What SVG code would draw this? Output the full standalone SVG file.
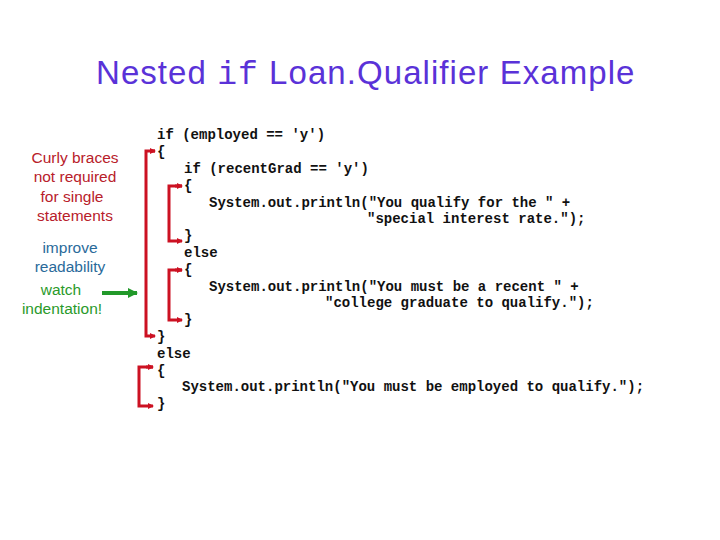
<svg xmlns="http://www.w3.org/2000/svg" width="720" height="540" viewBox="0 0 720 540">
<defs>
<marker id="ah" markerWidth="6" markerHeight="6" refX="5" refY="3" orient="auto" markerUnits="userSpaceOnUse"><path d="M0,0 L6,3 L0,6 z" fill="#cc1122"/></marker>
<marker id="ag" markerWidth="10" markerHeight="10" refX="9" refY="5" orient="auto" markerUnits="userSpaceOnUse"><path d="M0,0 L10,5 L0,10 z" fill="#22992a"/></marker>
</defs>
<style>
.code{font-family:"Liberation Mono",monospace;font-weight:bold;font-size:14px;fill:#111;white-space:pre}
.note{font-family:"Liberation Sans",Arial,sans-serif;font-size:15.5px;text-anchor:middle}
.br{fill:none;stroke:#cc1122;stroke-width:3}
</style>
<rect width="720" height="540" fill="#fff"/>
<g id="title"><text x="96" y="84" font-family="Liberation Sans,Arial,sans-serif" font-size="33" letter-spacing="0.6" fill="#5a32d8" textLength="539" lengthAdjust="spacing">Nested <tspan font-family="Liberation Mono,monospace" font-size="33">if</tspan> Loan.Qualifier Example</text></g>
<g id="notes">
<text class="note" x="75" y="163" fill="#b8202a">Curly braces</text>
<text class="note" x="75" y="182" fill="#b8202a">not required</text>
<text class="note" x="72" y="202" fill="#b8202a">for single</text>
<text class="note" x="75" y="221" fill="#b8202a">statements</text>
<text class="note" x="70" y="253" fill="#2a6a9a">improve</text>
<text class="note" x="70" y="272" fill="#2a6a9a">readability</text>
<text class="note" x="61" y="295" fill="#2a9a2a">watch</text>
<text class="note" x="62" y="314" fill="#2a9a2a">indentation!</text>
</g>
<g id="code">
<text class="code" x="157" y="139">if (employed == 'y')</text>
<text class="code" x="157" y="156">{</text>
<text class="code" x="184" y="173">if (recentGrad == 'y')</text>
<text class="code" x="184" y="190">{</text>
<text class="code" x="209" y="207">System.out.println("You qualify for the " +</text>
<text class="code" x="367" y="223">"special interest rate.");</text>
<text class="code" x="184" y="240">}</text>
<text class="code" x="184" y="257">else</text>
<text class="code" x="184" y="274">{</text>
<text class="code" x="209" y="291">System.out.println("You must be a recent " +</text>
<text class="code" x="325" y="307">"college graduate to qualify.");</text>
<text class="code" x="184" y="324">}</text>
<text class="code" x="157" y="341">}</text>
<text class="code" x="157" y="358">else</text>
<text class="code" x="157" y="375">{</text>
<text class="code" x="182" y="391">System.out.println("You must be employed to qualify.");</text>
<text class="code" x="157" y="408">}</text>
</g>
<g id="connectors">
<path class="br" d="M155,151 H146 V336 H155" marker-end="url(#ah)"/>
<path d="M150,151 H155" stroke="#cc1122" stroke-width="3" marker-end="url(#ah)"/>
<path class="br" d="M182,186 H169 V241 H182" marker-end="url(#ah)"/>
<path d="M175,186 H182" stroke="#cc1122" stroke-width="3" marker-end="url(#ah)"/>
<path class="br" d="M182,270 H169 V320 H182" marker-end="url(#ah)"/>
<path d="M175,270 H182" stroke="#cc1122" stroke-width="3" marker-end="url(#ah)"/>
<path class="br" d="M153,367 H139 V406 H153" marker-end="url(#ah)"/>
<path d="M146,367 H153" stroke="#cc1122" stroke-width="3" marker-end="url(#ah)"/>
<path d="M102,293 H137" stroke="#22992a" stroke-width="4" marker-end="url(#ag)"/>
</g>
</svg>
